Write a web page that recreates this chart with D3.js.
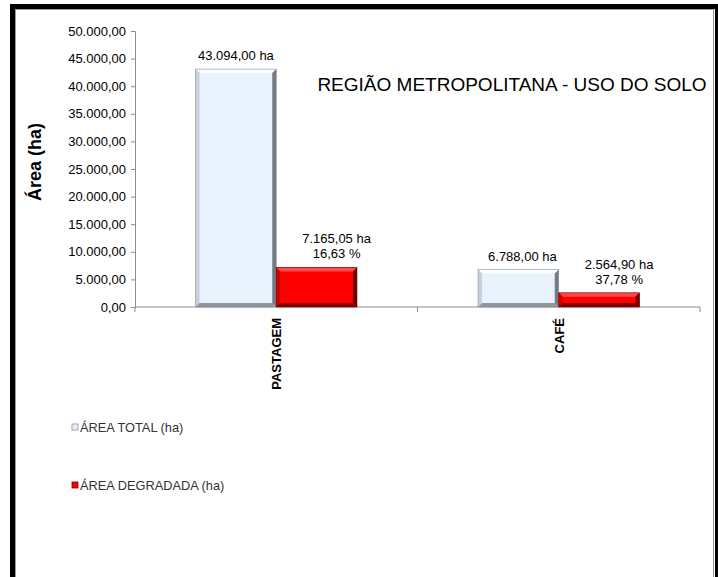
<!DOCTYPE html>
<html>
<head>
<meta charset="utf-8">
<script src="https://cdn.jsdelivr.net/npm/d3@7"></script>
<style>
    body { margin: 0; background: #fff; }
    text { font-family: "Liberation Sans", Arial, sans-serif; }
</style>
</head>
<body>
<div id="chart"></div>
<script>
// data
const categories = ["PASTAGEM", "CAFÉ"];
const seriesNames = ["ÁREA TOTAL (ha)", "ÁREA DEGRADADA (ha)"];
const areaTotal = [43094.00, 6788.00];
const areaDegradada = [7165.05, 2564.90];
const pctDegradada = [16.63, 37.78];
const yTicks = [0, 5000, 10000, 15000, 20000, 25000, 30000, 35000, 40000, 45000, 50000];

const ptBR = d3.formatLocale({decimal: ",", thousands: ".", grouping: [3], currency: ["R$", ""]});
const fmt = ptBR.format(",.2f");

const W = 718, H = 577;
const svg = d3.select("#chart").append("svg")
    .attr("width", W)
    .attr("height", H);

// frame
svg.append("rect")
    .attr("x", 12.5).attr("y", 6.5)
    .attr("width", 705).attr("height", 700)
    .attr("fill", "#fff")
    .attr("stroke", "#000")
    .attr("stroke-width", 5);
svg.append("rect")
    .attr("x", 15.5).attr("y", 9.5)
    .attr("width", 698).attr("height", 700)
    .attr("fill", "none")
    .attr("stroke", "#9a9a9a")
    .attr("stroke-width", 1);

// scales
const plot = {left: 135, right: 700, top: 31, bottom: 307};

const x = d3.scaleBand()
    .domain(categories)
    .range([plot.left, plot.right])
    .padding(0);

const y = d3.scaleLinear()
    .domain([0, 50000])
    .range([plot.bottom, plot.top]);

// bar width: excel gap width 150%
const barW = x.bandwidth() / 3.5;
const xs = d3.scaleBand()
    .domain([0, 1])
    .range([x.bandwidth() / 2 - barW, x.bandwidth() / 2 + barW]);

// y axis
const yAxis = d3.axisLeft(y)
    .tickValues(yTicks)
    .tickSize(4)
    .tickFormat(d => fmt(d));

const gy = svg.append("g")
    .attr("transform", `translate(${plot.left},0)`)
    .call(yAxis);
gy.select(".domain").attr("stroke", "#8c8c8c");
gy.selectAll(".tick line").attr("stroke", "#8c8c8c");
gy.selectAll(".tick text")
    .attr("x", -9)
    .attr("font-size", 13)
    .attr("font-family", "Liberation Sans, Arial, sans-serif")
    .attr("fill", "#000");

// x axis line + ticks at category boundaries
svg.append("line")
    .attr("x1", plot.left).attr("x2", plot.right)
    .attr("y1", y(0)).attr("y2", y(0))
    .attr("stroke", "#8c8c8c");
const bounds = categories.map(c => x(c)).concat([x(categories[categories.length - 1]) + x.bandwidth()]);
svg.selectAll(".xtick")
    .data(bounds)
    .enter().append("line")
    .attr("class", "xtick")
    .attr("x1", d => d).attr("x2", d => d)
    .attr("y1", y(0)).attr("y2", y(0) + 5)
    .attr("stroke", "#8c8c8c");

// category labels (rotated)
svg.selectAll(".cat")
    .data(categories)
    .enter().append("text")
    .attr("class", "cat")
    .attr("transform", d => `translate(${x(d) + x.bandwidth() / 2 + 5},${y(0) + 11})rotate(-90)`)
    .attr("text-anchor", "end")
    .attr("font-size", 13)
    .attr("font-weight", "bold")
    .text(d => d);

// bevelled bars
const styles = [
    {face: "#e8f2fc", top: "#fbfdff", left: "#c5d1dd", right: "#737a82", bottom: "#8e959d", stroke: "#8a9098"},
    {face: "#ff0000", top: "#ff4a4a", left: "#d40000", right: "#6e0000", bottom: "#860000", stroke: "#700000"}
];

function bevelBar(g, bx, by, bw, bh, st) {
    const b = Math.min(4, bh / 2, bw / 2);
    g.append("rect")
        .attr("x", bx).attr("y", by)
        .attr("width", bw).attr("height", bh)
        .attr("fill", st.face);
    const polys = [
        [[bx, by], [bx + bw, by], [bx + bw - b, by + b], [bx + b, by + b], st.top],
        [[bx, by], [bx + b, by + b], [bx + b, by + bh - b], [bx, by + bh], st.left],
        [[bx + bw, by], [bx + bw, by + bh], [bx + bw - b, by + bh - b], [bx + bw - b, by + b], st.right],
        [[bx, by + bh], [bx + b, by + bh - b], [bx + bw - b, by + bh - b], [bx + bw, by + bh], st.bottom]
    ];
    polys.forEach(p => {
        g.append("polygon")
            .attr("points", p.slice(0, 4).map(q => q.join(",")).join(" "))
            .attr("fill", p[4]);
    });
    g.append("rect")
        .attr("x", bx).attr("y", by)
        .attr("width", bw).attr("height", bh)
        .attr("fill", "none")
        .attr("stroke", st.stroke)
        .attr("stroke-width", 0.6);
}

const series = [areaTotal, areaDegradada];
const bars = svg.append("g");
categories.forEach((c, i) => {
    series.forEach((s, k) => {
        const bx = x(c) + xs(k);
        bevelBar(bars, bx, y(s[i]), xs.bandwidth(), y(0) - y(s[i]), styles[k]);
    });
});

// data labels
const labels = svg.append("g")
    .attr("font-size", 13)
    .attr("text-anchor", "middle")
    .attr("fill", "#000");
categories.forEach((c, i) => {
    // total
    labels.append("text")
        .attr("x", x(c) + xs(0) + xs.bandwidth() / 2 + (i === 1 ? 4 : 0))
        .attr("y", y(areaTotal[i]) - 9)
        .text(fmt(areaTotal[i]) + " ha");
    // degraded
    const cx = x(c) + xs(1) + xs.bandwidth() / 2 + 20;
    labels.append("text")
        .attr("x", cx)
        .attr("y", y(areaDegradada[i]) - 9 - 15)
        .text(fmt(areaDegradada[i]) + " ha");
    labels.append("text")
        .attr("x", cx)
        .attr("y", y(areaDegradada[i]) - 9)
        .text(ptBR.format(".2f")(pctDegradada[i]) + " %");
});

// title
svg.append("text")
    .attr("x", 512)
    .attr("y", 91)
    .attr("text-anchor", "middle")
    .attr("font-size", 19)
    .text("REGIÃO METROPOLITANA - USO DO SOLO");

// y axis title
svg.append("text")
    .attr("transform", "translate(41,162)rotate(-90)")
    .attr("text-anchor", "middle")
    .attr("font-size", 18)
    .attr("font-weight", "bold")
    .text("Área (ha)");

// legend
const legend = svg.append("g")
    .selectAll("g")
    .data(seriesNames)
    .enter().append("g")
    .attr("transform", (d, i) => `translate(72,${i === 0 ? 427 : 485})`);
legend.append("rect")
    .attr("x", 0).attr("y", -3)
    .attr("width", 6).attr("height", 6)
    .attr("fill", (d, i) => styles[i].face)
    .attr("stroke", (d, i) => styles[i].stroke)
    .attr("stroke-width", 0.8);
legend.append("text")
    .attr("x", 8)
    .attr("y", 4.5)
    .attr("font-size", 12.8)
    .attr("fill", "#333")
    .text(d => d);
</script>
</body>
</html>
